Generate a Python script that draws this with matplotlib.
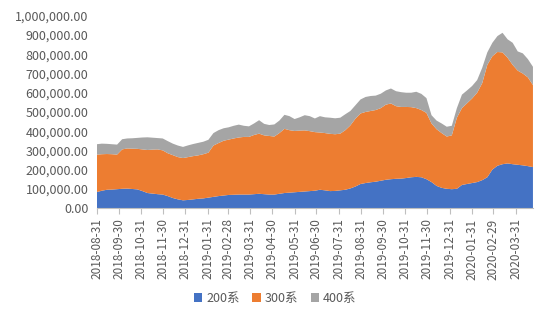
# Stacked area chart: weekly 200/300/400 series
import matplotlib
matplotlib.use("Agg")
import matplotlib.pyplot as plt
import matplotlib.dates as mdates
import matplotlib.ticker as mticker
import pandas as pd

plt.rcParams['font.family'] = ['Noto Sans CJK SC', 'DejaVu Sans']

# weekly dates (Fridays) from 2018-08-31
dates = pd.date_range('2018-08-31', periods=87, freq='7D')

s200 = [83, 90, 95, 96, 98, 100, 101, 99, 97, 88, 78, 75, 72, 70, 62, 52, 45, 40, 42, 45,
        48, 50, 54, 58, 62, 65, 68, 69, 70, 70, 70, 72, 74, 72, 70, 70, 74, 78, 80, 82,
        84, 86, 88, 90, 95, 92, 88, 89, 92, 95, 102, 112, 125, 130, 134, 137, 142, 147, 150, 152,
        153, 156, 160, 162, 160, 150, 135, 115, 105, 100, 98, 100, 120, 125, 130, 135, 145, 160, 200, 220,
        228, 232, 228, 225, 222, 218, 213]
s300 = [195, 190, 186, 184, 180, 205, 209, 210, 211, 217, 224, 229, 233, 230, 223, 223, 220, 220, 223, 225,
        226, 230, 234, 267, 276, 285, 288, 293, 297, 300, 300, 308, 313, 306, 305, 302, 316, 334, 325, 319,
        319, 318, 312, 305, 298, 298, 298, 295, 295, 310, 328, 353, 367, 370, 371, 373, 378, 391, 394, 378,
        373, 370, 365, 358, 350, 345, 305, 295, 285, 272, 280, 370, 400, 420, 440, 465, 505, 585, 590, 592,
        582, 550, 517, 490, 478, 462, 427]
s400 = [54, 55, 53, 52, 52, 53, 52, 54, 57, 62, 66, 62, 59, 62, 63, 60, 60, 58, 61, 63,
        65, 65, 67, 65, 67, 65, 64, 66, 67, 58, 55, 60, 70, 60, 57, 63, 65, 73, 73, 62,
        69, 79, 78, 71, 85, 82, 84, 83, 83, 83, 75, 70, 73, 78, 78, 75, 75, 74, 78, 78,
        77, 74, 75, 85, 84, 77, 43, 45, 50, 51, 50, 50, 70, 67, 65, 66, 80, 65, 70, 83,
        102, 96, 115, 100, 105, 95, 95]

labels = ['200系', '300系', '400系']
colors = ['#4472C4', '#ED7D31', '#A5A5A5']

fig = plt.figure(figsize=(5.5, 3.24), dpi=100)
ax = fig.add_axes([0.176, 0.358, 0.793, 0.593])

ax.stackplot(dates, [v * 1000 for v in s200], [v * 1000 for v in s300],
             [v * 1000 for v in s400], colors=colors, labels=labels, linewidth=0)

ax.set_ylim(0, 1000000)
ax.set_xlim(dates[0], dates[-1])
ax.yaxis.set_major_locator(mticker.MultipleLocator(100000))
ax.yaxis.set_major_formatter(mticker.FuncFormatter(lambda v, p: f'{v:,.2f}'))

month_ends = pd.date_range('2018-08-31', '2020-03-31', freq='ME')
ax.set_xticks(month_ends)
ax.xaxis.set_major_formatter(mdates.DateFormatter('%Y-%m-%d'))
ax.tick_params(axis='x', labelrotation=90, labelsize=8.5, colors='#595959',
               length=4, color='#BFBFBF', direction='out')
ax.tick_params(axis='y', labelsize=9, colors='#595959', length=0, pad=6)

for side in ['top', 'right', 'left']:
    ax.spines[side].set_visible(False)
ax.spines['bottom'].set_color('#BFBFBF')

handles, lbls = ax.get_legend_handles_labels()
fig.legend(handles, lbls, loc='center', bbox_to_anchor=(0.5, 0.078), ncol=3,
           frameon=False, fontsize=9, handlelength=0.7, handleheight=0.7,
           handletextpad=0.3, columnspacing=1.0, labelcolor='#595959')

fig.savefig('out.png', dpi=100)
